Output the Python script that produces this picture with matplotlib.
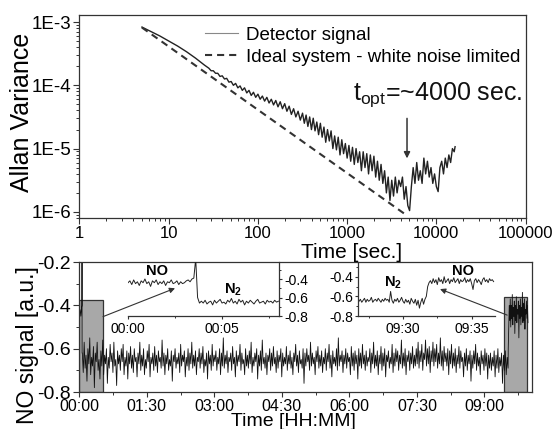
import numpy as np
import matplotlib
matplotlib.use('Agg')
import matplotlib.pyplot as plt
from matplotlib.ticker import FixedLocator, FuncFormatter, MultipleLocator, LogLocator, NullFormatter
from matplotlib.patches import Rectangle

plt.rcParams['font.family'] = ['Liberation Sans', 'DejaVu Sans']
plt.rcParams['mathtext.fontset'] = 'custom'
plt.rcParams['mathtext.rm'] = 'Liberation Sans'
plt.rcParams['mathtext.bf'] = 'Liberation Sans:bold'
plt.rcParams['axes.unicode_minus'] = False

# ---- Allan variance (exponents) ----
tau_exp = [0.70, 0.80, 0.90, 1.00, 1.10, 1.20, 1.30, 1.40,
           1.450, 1.475, 1.500, 1.525, 1.550, 1.575, 1.600, 1.625, 1.650, 1.675,
           1.700, 1.725, 1.750, 1.775, 1.800, 1.825, 1.850, 1.875, 1.900, 1.925,
           1.950, 1.975, 2.000, 2.025, 2.050, 2.075, 2.100, 2.125, 2.150, 2.175,
           2.200, 2.225, 2.250, 2.275, 2.300, 2.325, 2.350, 2.375, 2.400, 2.425,
           2.450, 2.475,
           2.50, 2.52, 2.54, 2.56, 2.58, 2.60, 2.62, 2.64, 2.66, 2.68,
           2.70, 2.72, 2.74, 2.76, 2.78, 2.80, 2.82, 2.84, 2.86, 2.88,
           2.90, 2.92, 2.94, 2.96, 2.98, 3.00, 3.02, 3.04, 3.06, 3.08,
           3.10, 3.12, 3.14, 3.16, 3.18, 3.20, 3.22, 3.24, 3.26, 3.28,
           3.30, 3.32, 3.34, 3.36, 3.38, 3.40, 3.42, 3.44, 3.46, 3.48,
           3.50, 3.52, 3.54, 3.56, 3.58, 3.60, 3.62, 3.64, 3.66, 3.68,
           3.70, 3.72, 3.74, 3.76, 3.78, 3.80, 3.82, 3.84, 3.86, 3.88,
           3.90, 3.92, 3.94, 3.96, 3.98, 4.00, 4.02, 4.04, 4.06, 4.08,
           4.10, 4.12, 4.14, 4.16, 4.18, 4.20, 4.21]
av_exp = [-3.08, -3.15, -3.22, -3.30, -3.38, -3.47, -3.57, -3.68,
          -3.73, -3.77, -3.77, -3.81, -3.81, -3.86, -3.85, -3.90, -3.89, -3.95,
          -3.94, -4.00, -3.97, -4.04, -4.01, -4.08, -4.04, -4.12, -4.08, -4.16,
          -4.11, -4.19, -4.14, -4.22, -4.17, -4.25, -4.19, -4.28, -4.22, -4.31,
          -4.24, -4.34, -4.26, -4.37, -4.29, -4.41, -4.33, -4.46, -4.37, -4.50,
          -4.41, -4.55,
          -4.44, -4.60, -4.47, -4.65, -4.50, -4.70, -4.52, -4.72, -4.58, -4.78,
          -4.60, -4.82, -4.66, -4.90, -4.70, -4.88, -4.72, -5.00, -4.80, -5.02,
          -4.82, -5.10, -4.86, -5.08, -4.92, -5.15, -4.95, -5.20, -4.98, -5.25,
          -5.00, -5.22, -5.05, -5.35, -5.05, -5.30, -5.08, -5.40, -5.10, -5.35,
          -5.12, -5.45, -5.20, -5.50, -5.25, -5.55, -5.35, -5.70, -5.45, -5.82,
          -5.50, -5.75, -5.45, -5.70, -5.50, -5.60, -5.45, -5.80, -5.60, -5.90,
          -5.98, -5.60, -5.30, -5.55, -5.22, -5.50, -5.35, -5.55, -5.15, -5.40,
          -5.20, -5.45, -5.30, -5.55, -5.40, -5.60, -5.68, -5.30, -5.20, -5.40,
          -5.15, -5.30, -5.10, -5.22, -5.00, -5.05, -4.97]
ideal_tau = [5, 4660]
ideal_av = [8.2e-4, 8.8e-7]
t_opt_label = 't$_{\\mathregular{opt}}$=~4000 sec.'
t_opt = 4690

# ---- NO signal trace (minutes) ----
start_t = [0.0, 1.0, 2.0, 3.0, 3.5, 3.6, 3.7]
start_v = [-0.44, -0.42, -0.45, -0.41, -0.40, -0.18, -0.62]
n2_span = (4.0, 571.5)
n2_v = [
    -0.62,-0.71,-0.57,-0.69,-0.63,-0.75,-0.60,-0.67,-0.55,-0.72,-0.64,-0.68,-0.59,-0.78,-0.62,-0.66,-0.57,-0.70,-0.65,-0.74,
    -0.61,-0.68,-0.56,-0.72,-0.63,-0.67,-0.60,-0.76,-0.64,-0.69,-0.58,-0.66,-0.62,-0.71,-0.57,-0.68,-0.65,-0.77,-0.61,-0.67,
    -0.63,-0.70,-0.60,-0.66,-0.58,-0.72,-0.64,-0.68,-0.61,-0.74,-0.62,-0.67,-0.59,-0.69,-0.63,-0.71,-0.60,-0.66,-0.64,-0.73,
    -0.62,-0.67,-0.57,-0.70,-0.63,-0.68,-0.60,-0.72,-0.65,-0.69,-0.61,-0.66,-0.58,-0.73,-0.64,-0.67,-0.62,-0.70,-0.59,-0.68,
    -0.63,-0.71,-0.61,-0.66,-0.64,-0.69,-0.56,-0.68,-0.62,-0.72,-0.63,-0.67,-0.60,-0.70,-0.65,-0.68,-0.61,-0.75,-0.63,-0.66,
    -0.60,-0.69,-0.64,-0.67,-0.62,-0.71,-0.58,-0.68,-0.63,-0.66,-0.61,-0.73,-0.64,-0.68,-0.60,-0.70,-0.62,-0.67,-0.57,-0.69,
    -0.63,-0.68,-0.61,-0.72,-0.64,-0.66,-0.60,-0.69,-0.62,-0.67,-0.59,-0.71,-0.65,-0.68,-0.62,-0.74,-0.61,-0.67,-0.63,-0.70,
    -0.58,-0.68,-0.63,-0.66,-0.61,-0.70,-0.64,-0.67,-0.60,-0.72,-0.62,-0.68,-0.55,-0.69,-0.63,-0.67,-0.61,-0.71,-0.64,-0.66,
    -0.62,-0.70,-0.59,-0.67,-0.64,-0.73,-0.61,-0.68,-0.63,-0.66,-0.58,-0.70,-0.62,-0.67,-0.65,-0.72,-0.60,-0.68,-0.63,-0.69,
    -0.61,-0.67,-0.57,-0.71,-0.64,-0.68,-0.62,-0.66,-0.60,-0.74,-0.63,-0.68,-0.61,-0.70,-0.56,-0.67,-0.64,-0.69,-0.62,-0.72,
    -0.63,-0.66,-0.60,-0.70,-0.62,-0.68,-0.59,-0.67,-0.64,-0.71,-0.61,-0.69,-0.63,-0.66,-0.60,-0.73,-0.62,-0.68,-0.64,-0.67,
    -0.59,-0.70,-0.63,-0.67,-0.61,-0.69,-0.64,-0.72,-0.62,-0.66,-0.58,-0.68,-0.63,-0.71,-0.61,-0.67,-0.65,-0.69,-0.60,-0.76,
    -0.62,-0.68,-0.60,-0.66,-0.63,-0.70,-0.57,-0.68,-0.62,-0.67,-0.64,-0.72,-0.61,-0.66,-0.59,-0.69,-0.63,-0.68,-0.61,-0.71,
    -0.64,-0.67,-0.60,-0.70,-0.62,-0.66,-0.58,-0.69,-0.63,-0.73,-0.61,-0.67,-0.64,-0.68,-0.60,-0.70,-0.55,-0.68,-0.63,-0.66,
    -0.61,-0.71,-0.63,-0.67,-0.60,-0.69,-0.62,-0.66,-0.64,-0.72,-0.59,-0.68,-0.62,-0.70,-0.61,-0.67,-0.63,-0.74,-0.60,-0.68,
    -0.62,-0.69,-0.58,-0.67,-0.63,-0.70,-0.61,-0.68,-0.64,-0.66,-0.60,-0.71,-0.62,-0.67,-0.57,-0.69,-0.63,-0.68,-0.61,-0.72,
    -0.63,-0.67,-0.59,-0.70,-0.62,-0.68,-0.60,-0.73,-0.63,-0.66,-0.61,-0.69,-0.64,-0.67,-0.58,-0.71,-0.62,-0.68,-0.60,-0.66,
    -0.61,-0.70,-0.63,-0.67,-0.56,-0.69,-0.62,-0.68,-0.60,-0.72,-0.63,-0.66,-0.61,-0.70,-0.62,-0.67,-0.59,-0.69,-0.63,-0.68,
    -0.60,-0.67,-0.57,-0.69,-0.61,-0.66,-0.58,-0.70,-0.62,-0.65,-0.56,-0.68,-0.60,-0.67,-0.59,-0.71,-0.61,-0.66,-0.57,-0.68,
    -0.60,-0.66,-0.58,-0.69,-0.62,-0.67,-0.55,-0.68,-0.61,-0.70,-0.59,-0.66,-0.62,-0.68,-0.60,-0.72,-0.61,-0.67,-0.58,-0.69,
    -0.62,-0.68,-0.60,-0.71,-0.63,-0.67,-0.59,-0.69,-0.61,-0.66,-0.64,-0.73,-0.62,-0.68,-0.60,-0.70,-0.63,-0.67,-0.61,-0.75,
    -0.63,-0.69,-0.61,-0.67,-0.58,-0.70,-0.62,-0.68,-0.64,-0.72,-0.61,-0.67,-0.63,-0.70,-0.60,-0.68,-0.62,-0.74,-0.63,-0.69,
    -0.62,-0.70,-0.64,-0.68,-0.61,-0.73,-0.63,-0.69,-0.60,-0.71,-0.64,-0.68,-0.62,-0.76,-0.63,-0.70,-0.61,-0.72,-0.64,-0.69]
end_span = (571.7, 598.0)
end_v = [-0.60,-0.50,-0.40,-0.47,-0.37,-0.50,-0.40,-0.46,-0.35,-0.49,-0.41,-0.45,-0.38,-0.53,-0.40,-0.47,-0.36,-0.48,-0.42,-0.44,
         -0.38,-0.55,-0.40,-0.46,-0.37,-0.49,-0.41,-0.45,-0.34,-0.48,-0.39,-0.47,-0.37,-0.51,-0.42,-0.44,-0.38,-0.46,-0.40,-0.48]

# zoom windows: (start min, end min, top of box)
windows = [(0.0, 32.0, -0.375), (566.0, 597.0, -0.363)]

# ---- insets ----
ins1_span = (0.0, 8.0)
ins1_v = [-0.44,-0.42,-0.46,-0.41,-0.45,-0.43,-0.47,-0.42,-0.44,-0.40,-0.45,-0.43,-0.48,-0.42,-0.44,-0.41,-0.46,-0.43,-0.45,-0.42,
          -0.47,-0.43,-0.44,-0.41,-0.45,-0.44,-0.42,-0.46,-0.43,-0.45,-0.44,-0.42,-0.41,-0.43,-0.40,
          -0.39,-0.18,-0.60,-0.66,
          -0.64,-0.66,-0.63,-0.67,-0.65,-0.64,-0.68,-0.63,-0.66,-0.64,-0.62,-0.66,-0.65,-0.67,-0.63,-0.65,-0.61,-0.66,-0.64,-0.67,
          -0.62,-0.65,-0.63,-0.68,-0.64,-0.66,-0.63,-0.65,-0.67,-0.64,-0.62,-0.66,-0.65,-0.64,-0.67,-0.63,-0.65,-0.64,-0.66,-0.63,
          -0.65,-0.64]
ins2_span = (566.8, 576.6)
ins2_v = [-0.65,-0.63,-0.66,-0.64,-0.62,-0.66,-0.63,-0.65,-0.64,-0.61,-0.66,-0.64,-0.63,-0.65,-0.62,-0.64,-0.66,-0.63,-0.65,-0.62,
          -0.64,-0.63,-0.66,-0.55,-0.64,-0.67,-0.63,-0.65,-0.62,-0.66,-0.64,-0.61,-0.65,-0.67,-0.63,-0.66,-0.64,-0.68,-0.62,-0.65,
          -0.67,-0.63,-0.69,-0.64,-0.72,-0.66,-0.62,-0.68,-0.63,
          -0.60,-0.50,-0.46,
          -0.44,-0.47,-0.42,-0.46,-0.43,-0.48,-0.41,-0.45,-0.43,-0.47,-0.40,-0.46,-0.44,-0.42,-0.47,-0.43,-0.45,-0.41,-0.46,-0.44,
          -0.42,-0.47,-0.43,-0.45,-0.44,-0.41,-0.46,-0.43,-0.45,-0.42,-0.47,-0.53,-0.44,-0.42,-0.46,-0.43,-0.45,-0.48,-0.43,-0.41,
          -0.45,-0.43,-0.46,-0.42,-0.44,-0.43,-0.45]


def hhmm(m, pos=None):
    m = int(round(m))
    return '%02d:%02d' % (m // 60, m % 60)


def style(ax, size):
    for s in ax.spines.values():
        s.set_linewidth(0.9)
        s.set_color('#333333')
    ax.tick_params(which='major', direction='out', length=4, width=0.8, labelsize=size, pad=2, color='#333333')
    ax.tick_params(which='minor', direction='out', length=2, width=0.7, color='#333333')


fig = plt.figure(figsize=(5.59, 4.29), dpi=100)

# -- top: Allan variance --
ax1 = fig.add_axes([0.1422, 0.4918, 0.798, 0.4732])
ax1.set_xscale('log')
ax1.set_yscale('log')
sig, = ax1.plot(10.0 ** np.array(tau_exp), 10.0 ** np.array(av_exp), color='#222222', lw=1.0,
                label='Detector signal')
ax1.plot(ideal_tau, ideal_av, color='#333333', lw=1.5, ls=(0, (3.4, 2.4)),
         label='Ideal system - white noise limited')
ax1.set_xlim(1, 1e5)
ax1.set_ylim(8.0e-7, 1.29e-3)
ax1.yaxis.set_major_locator(FixedLocator([1e-6, 1e-5, 1e-4, 1e-3]))
ax1.yaxis.set_major_formatter(FuncFormatter(lambda v, p: '1E%d' % round(np.log10(v))))
ax1.yaxis.set_minor_locator(LogLocator(base=10, subs=np.arange(2, 10), numticks=20))
ax1.yaxis.set_minor_formatter(NullFormatter())
ax1.xaxis.set_major_locator(FixedLocator([1, 10, 100, 1000, 1e4, 1e5]))
ax1.xaxis.set_major_formatter(FuncFormatter(lambda v, p: '%d' % round(v)))
ax1.xaxis.set_minor_locator(LogLocator(base=10, subs=np.arange(2, 10), numticks=20))
ax1.xaxis.set_minor_formatter(NullFormatter())
style(ax1, 12)
ax1.tick_params(axis='y', which='major', labelsize=13.5)
ax1.set_ylabel('Allan Variance', fontsize=18)
ax1.yaxis.set_label_coords(-0.102, 0.52)
ax1.set_xlabel('Time [sec.]', fontsize=15)
ax1.xaxis.set_label_coords(0.611, -0.125)
leg = ax1.legend(loc='upper right', bbox_to_anchor=(1.0, 0.97), frameon=False, fontsize=13.5,
                 handlelength=1.75, handletextpad=0.4, labelspacing=0.25, borderaxespad=0.2,
                 borderpad=0.1)
leg.legend_handles[0].set_color('#888888')
leg.legend_handles[0].set_linewidth(0.8)
ax1.text(1165, 5.8e-5, t_opt_label, fontsize=18, va='baseline', color='#111111')
ax1.annotate('', xy=(t_opt, 7.0e-6), xytext=(t_opt, 3.0e-5),
             arrowprops=dict(arrowstyle='-|>', color='#333333', lw=1.1, mutation_scale=9,
                             shrinkA=0, shrinkB=0))

# -- bottom: NO signal --
ax2 = fig.add_axes([0.1419, 0.0862, 0.8093, 0.303])
for w0, w1, top in windows:
    ax2.add_patch(Rectangle((w0, -0.8), w1 - w0, top + 0.8, facecolor='#a8a8a8',
                            edgecolor='#333333', lw=0.9, zorder=1))
trace_t = np.concatenate([start_t, np.linspace(*n2_span, len(n2_v)), np.linspace(*end_span, len(end_v))])
trace_v = np.concatenate([start_v, n2_v, end_v])
ax2.plot(trace_t, trace_v, color='#111111', lw=0.6, zorder=2)
ax2.set_xlim(0, 603)
ax2.set_ylim(-0.8, -0.2)
ax2.xaxis.set_major_locator(MultipleLocator(90))
ax2.xaxis.set_minor_locator(MultipleLocator(45))
ax2.xaxis.set_major_formatter(FuncFormatter(hhmm))
ax2.yaxis.set_major_locator(MultipleLocator(0.2))
ax2.yaxis.set_minor_locator(MultipleLocator(0.1))
ax2.yaxis.set_major_formatter(FuncFormatter(lambda v, p: '%.1f' % v))
style(ax2, 11.5)
ax2.tick_params(axis='x', which='major', length=3.5, pad=1.5)
ax2.tick_params(axis='y', which='major', labelsize=14)
ax2.set_ylabel('NO signal [a.u.]', fontsize=16.5)
ax2.yaxis.set_label_coords(-0.09, 0.36)
ax2.set_xlabel('Time [HH:MM]', fontsize=14)
ax2.xaxis.set_label_coords(0.4735, -0.162)

# -- insets --
ins1 = fig.add_axes([0.2290, 0.2634, 0.2701, 0.1259], facecolor='none')
ins1.plot(np.linspace(*ins1_span, len(ins1_v)), ins1_v, color='#222222', lw=0.7)
ins1.set_xlim(0, 8.03)
ins1.set_ylim(-0.8, -0.216)
ins1.spines['top'].set_visible(False)
ins1.spines['left'].set_visible(False)
ins1.yaxis.tick_right()
ins1.text(1.55, -0.31, 'NO', fontsize=10.5, fontweight='bold', ha='center', va='center')
ins1.text(5.6, -0.52, 'N$_\\mathbf{2}$', fontsize=10.5, fontweight='bold', ha='center', va='center')

ins2 = fig.add_axes([0.641, 0.2634, 0.2445, 0.1259], facecolor='none')
ins2.plot(np.linspace(*ins2_span, len(ins2_v)), ins2_v, color='#222222', lw=0.7)
ins2.set_xlim(566.75, 576.7)
ins2.set_ylim(-0.8, -0.25)
ins2.spines['top'].set_visible(False)
ins2.spines['right'].set_visible(False)
ins2.text(569.3, -0.46, 'N$_\\mathbf{2}$', fontsize=10.5, fontweight='bold', ha='center', va='center')
ins2.text(574.4, -0.34, 'NO', fontsize=10.5, fontweight='bold', ha='center', va='center')

for ins in (ins1, ins2):
    ins.xaxis.set_minor_locator(MultipleLocator(2.5))
    ins.xaxis.set_major_formatter(FuncFormatter(hhmm))
    ins.yaxis.set_major_locator(FixedLocator([-0.8, -0.6, -0.4]))
    ins.yaxis.set_minor_locator(FixedLocator([-0.7, -0.5, -0.3]))
    ins.yaxis.set_major_formatter(FuncFormatter(lambda v, p: '%.1f' % v))
    style(ins, 10)
    ins.tick_params(which='major', length=2.5, pad=1.5)
    ins.tick_params(which='minor', length=1.5)

ins1.xaxis.set_major_locator(FixedLocator([0, 5]))
ins2.xaxis.set_major_locator(FixedLocator([570, 575]))

arrow = dict(arrowstyle='-|>', color='#333333', lw=0.8, mutation_scale=8, shrinkA=0, shrinkB=0)
ins1.annotate('', xy=(2.5, -0.50), xycoords='data', xytext=(31.6, -0.452),
              textcoords=ax2.transData, arrowprops=arrow)
ins2.annotate('', xy=(572.7, -0.526), xycoords='data', xytext=(570.3, -0.445),
              textcoords=ax2.transData, arrowprops=arrow)

fig.savefig('out.png', dpi=100)
